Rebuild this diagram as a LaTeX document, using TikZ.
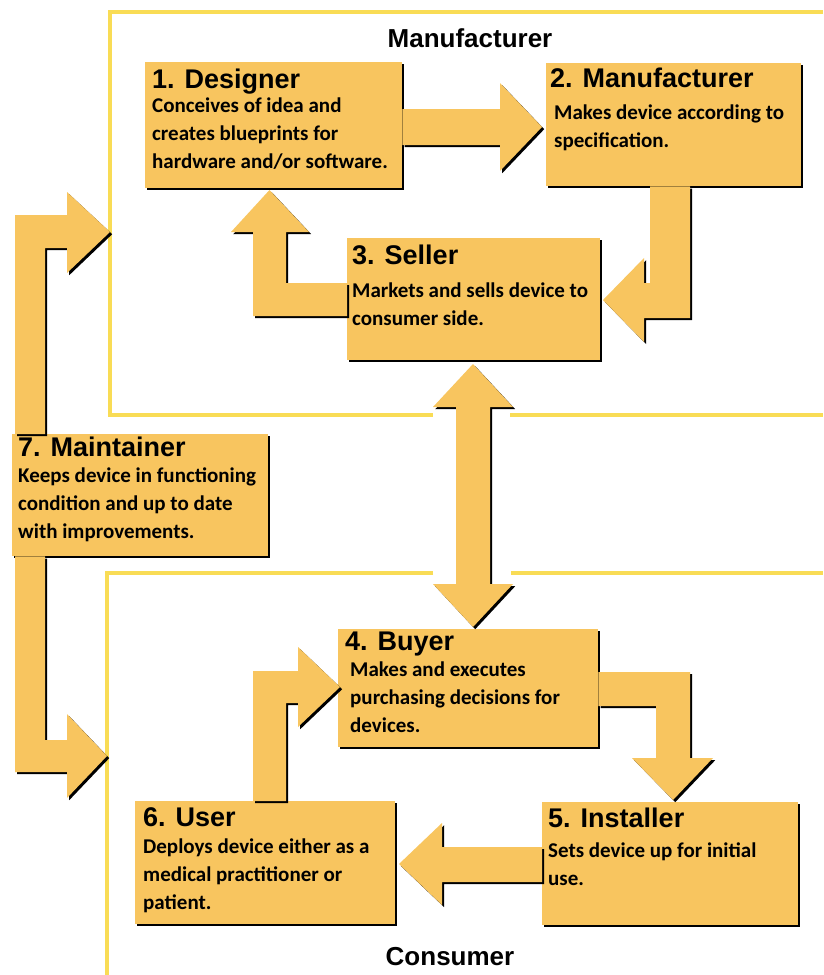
\documentclass[tikz,border=0pt]{standalone}
\usepackage{fontspec}
\usetikzlibrary{shadows}
\newfontfamily\headfont{Liberation Sans}
\newfontfamily\bodyfont{Carlito}
\definecolor{boxfill}{RGB}{248,197,95}
\definecolor{frameline}{RGB}{249,220,85}
\newcommand{\ttl}{\headfont\bfseries\fontsize{27}{30}\selectfont}
\newcommand{\bdy}{\bodyfont\bfseries\fontsize{21}{28}\selectfont}
\tikzset{
  box/.style={rectangle, fill=boxfill, anchor=north west, inner sep=0pt,
    general shadow={fill=black, shadow xshift=2.2pt, shadow yshift=-2.2pt}},
  blkarrow/.style={fill=boxfill,
    general shadow={fill=black, shadow xshift=2.2pt, shadow yshift=-2.2pt}},
  frame/.style={draw=frameline, line width=4pt},
  txt/.style={anchor=north west, inner sep=0pt, align=left, font=\bdy},
  side/.style={inner sep=0pt, font=\headfont\bfseries\fontsize{26}{30}\selectfont}
}
\begin{document}
\begin{tikzpicture}[x=1pt, y=-1pt]
\useasboundingbox (0,0) rectangle (823,975);
\fill[white] (0,0) rectangle (823,975);
% manufacturer and consumer sides
\draw[frame] (823,12) -- (110,12) -- (110,415) -- (433,415);
\draw[frame] (510,415) -- (823,415);
\draw[frame] (433,573) -- (107,573) -- (107,975);
\draw[frame] (511,573) -- (823,573);
\node[side] (mfrside) at (470,38) {Manufacturer};
\node[side] (conside) at (450,957) {Consumer};

% the seven roles
\node[box, minimum width=257pt, minimum height=126pt] (designer) at (145,62) {};
\node[box, minimum width=255pt, minimum height=123pt] (manufacturer) at (546,63) {};
\node[box, minimum width=253pt, minimum height=122pt] (seller) at (347,238) {};
\node[box, minimum width=256pt, minimum height=122pt] (maintainer) at (12,434) {};
\node[box, minimum width=260pt, minimum height=118pt] (buyer) at (338,629) {};
\node[box, minimum width=256pt, minimum height=123pt] (installer) at (542,802) {};
\node[box, minimum width=260pt, minimum height=123pt] (user) at (135,801) {};

% block arrows
\fill[blkarrow] (designer.east |- 0,109) -- (500,109) -- (500,83) -- (542,127)
  -- (500,171) -- (500,145) -- (designer.east |- 0,145) -- cycle;
\fill[blkarrow] (650,0 |- manufacturer.south) -- (690,0 |- manufacturer.south) -- (690,318)
  -- (644,318) -- (644,342) -- (603,300) -- (644,258) -- (644,283) -- (650,283) -- cycle;
\fill[blkarrow] (seller.west |- 0,283) -- (286,283) -- (286,232) -- (309,232) -- (269.5,190)
  -- (231,232) -- (253,232) -- (253,316) -- (seller.west |- 0,316) -- cycle;
\fill[blkarrow] (473,364) -- (513,407) -- (490,407) -- (490,584) -- (513,584) -- (473,627)
  -- (433,584) -- (456,584) -- (456,407) -- (433,407) -- cycle;
\fill[blkarrow] (buyer.east |- 0,672) -- (690,672) -- (690,758) -- (713,758) -- (673,800)
  -- (632,758) -- (656,758) -- (656,706) -- (buyer.east |- 0,706) -- cycle;
\fill[blkarrow] (installer.west |- 0,847) -- (442,847) -- (442,823) -- (399,864)
  -- (442,905) -- (442,882) -- (installer.west |- 0,882) -- cycle;
\fill[blkarrow] (253,0 |- user.north) -- (253,671) -- (298,671) -- (298,647) -- (340,687)
  -- (298,727) -- (298,703) -- (286,703) -- (286,0 |- user.north) -- cycle;
\fill[blkarrow] (15,0 |- maintainer.north) -- (15,215) -- (67,215) -- (67,192) -- (110,232)
  -- (67,273) -- (67,248) -- (45,248) -- (45,0 |- maintainer.north) -- cycle;
\fill[blkarrow] (15,0 |- maintainer.south) -- (15,772) -- (67,772) -- (67,798) -- (107,756)
  -- (67,714) -- (67,740) -- (45,740) -- (45,0 |- maintainer.south) -- cycle;

% texts
\node[txt] (designertxt) at ([shift={(7pt,-6.5pt)}]designer.north west)
  {{\ttl 1. Designer}\\[-4pt] Conceives of idea and\\ creates blueprints for\\ hardware and/or software.};
\node[txt] (manufacturertxt) at ([shift={(4pt,-4.5pt)}]manufacturer.north west)
  {{\ttl 2. Manufacturer}\\[4pt] \hspace*{4pt}Makes device according to\\ \hspace*{4pt}specification.};
\node[txt] (sellertxt) at ([shift={(5pt,-6.5pt)}]seller.north west)
  {{\ttl 3. Seller}\\[5pt] Markets and sells device to\\ consumer side.};
\node[txt] (maintainertxt) at ([shift={(6pt,-2.5pt)}]maintainer.north west)
  {{\ttl 7. Maintainer}\\[-2pt] Keeps device in functioning\\ condition and up to date\\ with improvements.};
\node[txt] (buyertxt) at ([shift={(7pt,-2.5pt)}]buyer.north west)
  {{\ttl 4. Buyer}\\[-2pt] \hspace*{5pt}Makes and executes\\ \hspace*{5pt}purchasing decisions for\\ \hspace*{5pt}devices.};
\node[txt] (installertxt) at ([shift={(6pt,-5.5pt)}]installer.north west)
  {{\ttl 5. Installer}\\[2pt] Sets device up for initial\\ use.};
\node[txt] (usertxt) at ([shift={(8pt,-6.5pt)}]user.north west)
  {{\ttl 6. User}\\[-1pt] Deploys device either as a\\ medical practitioner or\\ patient.};
\end{tikzpicture}
\end{document}
